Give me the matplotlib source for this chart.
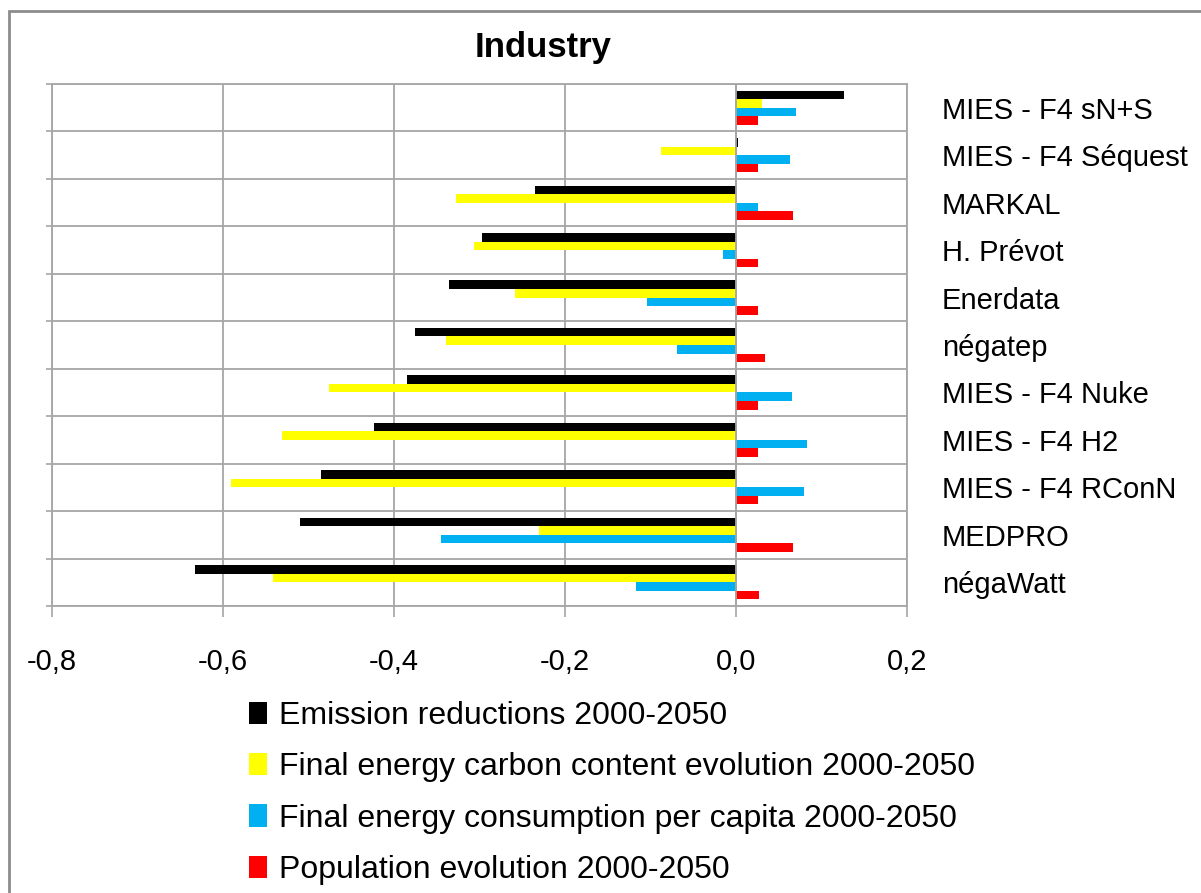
import matplotlib
matplotlib.use("Agg")
import matplotlib.pyplot as plt
import numpy as np
from matplotlib.patches import Rectangle, Patch
from matplotlib.ticker import FixedLocator

plt.rcParams['font.family'] = ['Liberation Sans', 'DejaVu Sans']

# scenarios, top to bottom
scenarios = ["MIES - F4 sN+S", "MIES - F4 Séquest", "MARKAL", "H. Prévot", "Enerdata",
             "négatep", "MIES - F4 Nuke", "MIES - F4 H2", "MIES - F4 RConN", "MEDPRO", "négaWatt"]

emission = [0.126, 0.002, -0.235, -0.297, -0.336, -0.376, -0.385, -0.423, -0.485, -0.510, -0.633]
carbon = [0.030, -0.088, -0.327, -0.307, -0.258, -0.339, -0.476, -0.531, -0.591, -0.230, -0.542]
consumption = [0.070, 0.063, 0.026, -0.015, -0.104, -0.069, 0.066, 0.083, 0.080, -0.345, -0.117]
population = [0.026, 0.026, 0.067, 0.026, 0.026, 0.034, 0.026, 0.026, 0.026, 0.067, 0.027]

series_names = ["Emission reductions 2000-2050",
                "Final energy carbon content evolution 2000-2050",
                "Final energy consumption per capita 2000-2050",
                "Population evolution 2000-2050"]
colors = ["#000000", "#FFFF00", "#00B0F0", "#FF0000"]

x_ticks = [-0.8, -0.6, -0.4, -0.2, 0.0, 0.2]

W, H = 1201, 893
fig = plt.figure(figsize=(W / 100, H / 100), dpi=100)
ax = fig.add_axes([52 / W, 1 - 606 / H, (907 - 52) / W, (606 - 84) / H])

y = np.arange(len(scenarios))
bh = 0.18
offsets = [-0.27, -0.09, 0.09, 0.27]
for vals, col, off, name in zip([emission, carbon, consumption, population], colors, offsets, series_names):
    ax.barh(y + off, vals, height=bh, color=col, label=name, zorder=3)

ax.set_xlim(-0.8, 0.2)
ax.set_ylim(len(scenarios) - 0.5, -0.5)

ax.set_xticks(x_ticks)
ax.set_xticklabels([("%.1f" % v).replace(".", ",") for v in x_ticks], fontsize=21)
ax.tick_params(axis='x', direction='out', length=8, width=1.2, color="#A6A6A6", pad=22)
ax.grid(axis='x', color="#A6A6A6", linewidth=1.3, zorder=0)

ax.set_yticks(y)
ax.set_yticklabels(scenarios, fontsize=21, ha='left')
ax.yaxis.set_minor_locator(FixedLocator(np.arange(-0.5, len(scenarios), 1.0)))
ax.tick_params(axis='y', which='major', left=False, right=False, labelleft=False,
               labelright=True, pad=21.5)
ax.tick_params(axis='y', which='minor', left=True, right=False, length=4, width=1.2,
               color="#A6A6A6")
ax.grid(axis='y', which='minor', color="#A6A6A6", linewidth=1.3, zorder=0)

for s in ax.spines.values():
    s.set_color("#A6A6A6")
    s.set_linewidth(1.3)
ax.axvline(0, color="#A6A6A6", linewidth=1.3, zorder=4)

fig.text(543 / W, 1 - 48 / H, "Industry", fontsize=25, fontweight='bold',
         ha='center', va='center')

handles = [Patch(facecolor=c, label=n) for c, n in zip(colors, series_names)]
fig.legend(handles=handles, loc='upper left', bbox_to_anchor=(249 / W, 1 - 701 / H),
           frameon=False, fontsize=23, handlelength=0.55, handleheight=0.7,
           handletextpad=0.4, labelspacing=0.67, borderpad=0, borderaxespad=0)

# outer chart frame
fig.patches.append(Rectangle((9 / W, -0.05), 1.2, 1 - 11 / H + 0.05, transform=fig.transFigure,
                             fill=False, edgecolor="#8C8C8C", linewidth=2))

fig.savefig("out.png", dpi=100)
